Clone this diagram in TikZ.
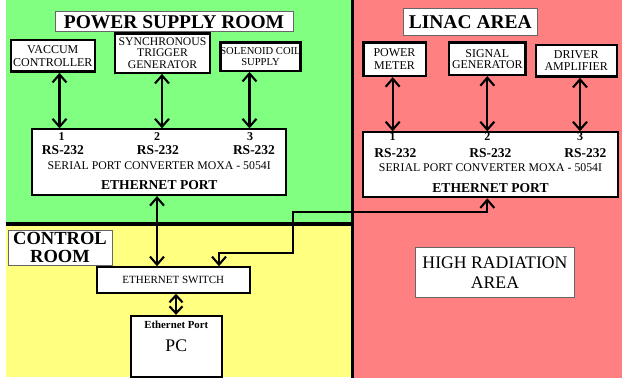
\documentclass[tikz,border=0pt]{standalone}
\usepackage{fontspec}
\setmainfont{Liberation Serif}
\usetikzlibrary{arrows.meta}
\definecolor{zgreen}{HTML}{80FF80}
\definecolor{zred}{HTML}{FF8080}
\definecolor{zyellow}{HTML}{FFFF80}
\newcommand{\fs}[2]{\fontsize{#1}{#2}\selectfont}
\begin{document}
\begin{tikzpicture}[x=1pt,y=-1pt,
  box/.style={draw=black, line width=2.4pt, fill=white, inner sep=0pt, align=center},
  ttl/.style={draw=black!60, line width=0.8pt, fill=white, inner sep=0pt, align=center},
  conv/.style={draw=black, line width=2pt, fill=white, inner sep=0pt},
  lab/.style={inner sep=0pt, anchor=center},
  link/.style={line width=2.1pt, line join=miter,
    {Straight Barb[length=8pt,width=14pt]}-{Straight Barb[length=8pt,width=14pt]}},
  shortlink/.style={line width=2.1pt,
    {Straight Barb[length=7pt,width=13pt]}-{Straight Barb[length=7pt,width=13pt]}},
]
\useasboundingbox (0,0) rectangle (622,378);
\fill[white] (0,0) rectangle (622,378);
\fill[zgreen] (6,0) rectangle (352,224);
\fill[zyellow] (6,224) rectangle (352,377);
\fill[zred] (352,0) rectangle (622,378);
\draw[line width=3.2pt] (352.5,0) -- (352.5,378);
\draw[line width=4pt] (6,224) -- (354,224);

% titles
\node[ttl, minimum width=238pt, minimum height=20pt, font=\bfseries\fs{19.5}{20}] (pst) at (174,21.7) {POWER SUPPLY ROOM};
\node[ttl, minimum width=134pt, minimum height=27.4pt, font=\bfseries\fs{19.5}{20}] (lint) at (470.3,22) {LINAC AREA};
\node[ttl, minimum width=104pt, minimum height=35pt, font=\bfseries\fs{18.5}{18}] (ctrl) at (60,247.5) {CONTROL\\ROOM};
\node[ttl, minimum width=159pt, minimum height=49.6pt, font=\fs{17.7}{20}] (high) at (495,272.5) {HIGH RADIATION\\AREA};

% power supply room devices
\node[box, minimum width=84pt, minimum height=31.7pt, font=\fs{12}{12.7}] (vac) at (52.8,55.8) {VACCUM\\CONTROLLER};
\node[box, minimum width=95pt, minimum height=39.4pt, font=\fs{11.7}{11.5}] (syn) at (162.5,53) {SYNCHRONOUS\\TRIGGER\\GENERATOR};
\node[box, minimum width=77.6pt, minimum height=28.4pt, font=\fs{10.6}{11.8}] (sol) at (260.5,56.5) {SOLENOID COIL\\SUPPLY};

% linac devices
\node[box, minimum width=62.4pt, minimum height=33.3pt, font=\fs{12}{13}] (pm) at (394.5,59.3) {POWER\\METER};
\node[box, minimum width=76.7pt, minimum height=32.3pt, font=\fs{11.9}{11}] (sg) at (487.3,58.8) {SIGNAL\\GENERATOR};
\node[box, minimum width=81pt, minimum height=31.7pt, font=\fs{12}{12}] (da) at (576.2,60.8) {DRIVER\\AMPLIFIER};

% converters
\node[conv, minimum width=253.7pt, minimum height=65.7pt] (psc) at (159.2,162.2) {};
\node[conv, minimum width=254.4pt, minimum height=65pt] (lnc) at (490.5,164.8) {};

\node[lab, font=\bfseries\fs{12}{12}] (p1) at (61.7,136.5) {1};
\node[lab, font=\bfseries\fs{12}{12}] (p2) at (157,136.5) {2};
\node[lab, font=\bfseries\fs{12}{12}] (p3) at (250,136.5) {3};
\node[lab, font=\bfseries\fs{13.5}{13.5}] (pr1) at (63,150) {RS-232};
\node[lab, font=\bfseries\fs{13.5}{13.5}] (pr2) at (158,150) {RS-232};
\node[lab, font=\bfseries\fs{13.5}{13.5}] (pr3) at (254,150) {RS-232};
\node[lab, font=\fs{11.8}{11.8}] (ps) at (159.2,166) {SERIAL PORT CONVERTER MOXA - 5054I};
\node[lab, font=\bfseries\fs{13.6}{13.6}] (pe) at (159.2,185) {ETHERNET PORT};

\node[lab, font=\bfseries\fs{12}{12}] (l1) at (392.7,137) {1};
\node[lab, font=\bfseries\fs{12}{12}] (l2) at (487.3,137) {2};
\node[lab, font=\bfseries\fs{12}{12}] (l3) at (580,137) {3};
\node[lab, font=\bfseries\fs{13.5}{13.5}] (lr1) at (395.3,152.7) {RS-232};
\node[lab, font=\bfseries\fs{13.5}{13.5}] (lr2) at (490.3,152.7) {RS-232};
\node[lab, font=\bfseries\fs{13.5}{13.5}] (lr3) at (585.3,152.7) {RS-232};
\node[lab, font=\fs{11.8}{11.8}] (ls) at (490.5,168) {SERIAL PORT CONVERTER MOXA - 5054I};
\node[lab, font=\bfseries\fs{13.6}{13.6}] (le) at (490.5,188.3) {ETHERNET PORT};

% control room
\node[box, line width=2.2pt, minimum width=153.3pt, minimum height=25.4pt, font=\fs{11}{11}] (sw) at (173.3,280) {ETHERNET SWITCH};
\node[box, line width=2.2pt, minimum width=90.7pt, minimum height=60.7pt] (pc) at (176.3,346.3) {};
\node[lab, font=\bfseries\fs{10.8}{10.8}] (pcp) at (176.3,324.5) {Ethernet Port};
\node[lab, font=\fs{17.7}{17.7}] (pct) at (176.3,346) {PC};

% column coordinates
\coordinate (a1) at (59.5,0);
\coordinate (a2) at (162,0);
\coordinate (a3) at (249.5,0);
\coordinate (b1) at (392.7,0);
\coordinate (b2) at (487.3,0);
\coordinate (b3) at (580,0);
\coordinate (cl) at (157,0);
\coordinate (cp) at (176,0);
\coordinate (k1) at (293,212);
\coordinate (k2) at (219,253);

% links
\draw[link] (vac.south -| a1) -- (psc.north -| a1);
\draw[link] (syn.south -| a2) -- (psc.north -| a2);
\draw[link] (sol.south -| a3) -- (psc.north -| a3);
\draw[link] (pm.south -| b1) -- (lnc.north -| b1);
\draw[link] (sg.south -| b2) -- (lnc.north -| b2);
\draw[link] (da.south -| b3) -- (lnc.north -| b3);
\draw[link] (psc.south -| cl) -- (sw.north -| cl);
\draw[link] (lnc.south -| b2) |- (k1) |- (k2) -- (sw.north -| k2);
\draw[shortlink] (sw.south -| cp) -- (pc.north -| cp);
\end{tikzpicture}
\end{document}
